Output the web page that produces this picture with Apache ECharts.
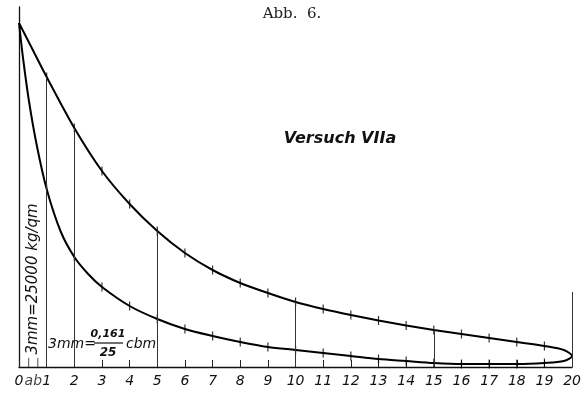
<!DOCTYPE html>
<html><head><meta charset="utf-8">
<script src="https://cdn.jsdelivr.net/npm/echarts@6/dist/echarts.min.js"></script>
<style>html,body{margin:0;padding:0;background:#fff}#c{width:584px;height:394px}</style>
</head><body><div id="c"></div>
<script>
// Data (x in volume divisions, y in pressure units above baseline)
var upperX = [0, 0.5, 1, 2, 3, 4, 5, 6, 7, 8, 9, 10, 11, 12, 13, 14, 15, 16, 17, 18, 19, 19.7, 20];
var upperY = [344, 317, 290, 239, 196, 163, 136, 114, 97, 84, 74, 65, 58, 52, 46.5, 41.5, 37, 33, 29, 25, 21, 17, 11];
var lowerX = [20, 19.7, 19, 18, 17, 16, 15, 14, 13, 12, 11, 10, 9, 8, 7, 6, 5, 4, 3, 2.5, 2, 1.5, 1, 0.64, 0.36, 0.15, 0];
var lowerY = [11, 6, 4, 3, 3, 3, 4, 6, 8, 11, 14, 17, 20, 25, 31, 38, 48, 61, 80, 93, 110, 136, 178, 222, 266, 308, 344];
var tickXs = [1, 2, 3, 4, 5, 6, 7, 8, 9, 10, 11, 12, 13, 14, 15, 16, 17, 18, 19];
var verticalXs = [1, 2, 5, 10, 15];
var rightLineTop = 75;
var extraTicks = [{x: 0.35, label: 'a'}, {x: 0.68, label: 'b'}];
var xLabels = ['0','1','2','3','4','5','6','7','8','9','10','11','12','13','14','15','16','17','18','19','20'];

function yAt(xs, ys, x) {
  for (var i = 0; i < xs.length; i++) if (xs[i] === x) return ys[i];
  return null;
}
var loop = [];
upperX.forEach(function (x, i) { loop.push([x, upperY[i]]); });
lowerX.forEach(function (x, i) { if (i > 0) loop.push([x, lowerY[i]]); });

var curveTicks = [];
tickXs.forEach(function (x) {
  curveTicks.push([x, yAt(upperX, upperY, x)]);
  curveTicks.push([x, yAt(lowerX, lowerY, x)]);
});
var vLines = verticalXs.map(function (x) {
  return [{coord: [x, 0]}, {coord: [x, yAt(upperX, upperY, x)]}];
});
vLines.push([{coord: [20, 0]}, {coord: [20, rightLineTop]}]);

var FONT = 'DejaVu Sans';
var chart = echarts.init(document.getElementById('c'), null, {renderer: 'canvas'});
chart.setOption({
  backgroundColor: '#fff',
  animation: false,
  grid: {left: 19, right: 6, top: 7, bottom: 27},
  xAxis: {
    type: 'value', min: 0, max: 20, interval: 1,
    axisLine: {show: true, lineStyle: {color: '#111', width: 1.3}},
    axisTick: {show: true, inside: true, length: 7, lineStyle: {color: '#222', width: 1}},
    axisLabel: {
      color: '#111', fontFamily: FONT, fontStyle: 'italic', fontSize: 14, margin: 7,
      formatter: function (v) { return xLabels[Math.round(v)]; }
    },
    splitLine: {show: false}
  },
  yAxis: {
    type: 'value', min: 0, max: 360,
    axisLine: {show: true, lineStyle: {color: '#111', width: 1.3}},
    axisTick: {show: false}, axisLabel: {show: false}, splitLine: {show: false}
  },
  series: [
    {
      type: 'line', data: loop, smooth: 0.3, showSymbol: false,
      lineStyle: {color: '#000', width: 2},
      markLine: {
        silent: true, symbol: ['none', 'none'], label: {show: false},
        lineStyle: {color: '#333', width: 1, type: 'solid'},
        data: vLines
      }
    },
    {
      type: 'scatter', data: curveTicks, symbol: 'rect', symbolSize: [1.2, 9],
      itemStyle: {color: '#000'}
    },
    {
      type: 'scatter', data: extraTicks.map(function (t) { return {value: [t.x, 0], name: t.label}; }),
      symbol: 'rect', symbolSize: [1, 9], symbolOffset: [0, -4.5],
      itemStyle: {color: '#222'},
      label: {show: true, position: 'bottom', distance: 7, formatter: '{b}',
        color: '#111', fontFamily: FONT, fontStyle: 'italic', fontSize: 14}
    }
  ],
  graphic: [
    {type: 'text', left: 'center', top: 7, style: {text: 'Abb.  6.', font: '15px "DejaVu Serif"', fill: '#222'}},
    {type: 'text', x: 340, y: 139, style: {text: 'Versuch VIIa', font: 'italic bold 16px "DejaVu Sans"', fill: '#111', textAlign: 'center', textVerticalAlign: 'middle'}},
    {type: 'text', x: 33, y: 279, rotation: Math.PI / 2, style: {text: '3mm=25000 kg/qm', font: 'italic 15px "DejaVu Sans"', fill: '#111', textAlign: 'center', textVerticalAlign: 'middle'}},
    {type: 'text', x: 48, y: 344, style: {text: '3mm=', font: 'italic 14px "DejaVu Sans"', fill: '#111', textAlign: 'left', textVerticalAlign: 'middle'}},
    {type: 'text', x: 108, y: 334, style: {text: '0,161', font: 'italic bold 11px "DejaVu Sans"', fill: '#111', textAlign: 'center', textVerticalAlign: 'middle'}},
    {type: 'line', shape: {x1: 94, y1: 343, x2: 123, y2: 343}, style: {stroke: '#111', lineWidth: 1.2}},
    {type: 'text', x: 108, y: 353, style: {text: '25', font: 'italic bold 12px "DejaVu Sans"', fill: '#111', textAlign: 'center', textVerticalAlign: 'middle'}},
    {type: 'text', x: 126, y: 344, style: {text: 'cbm', font: 'italic 14px "DejaVu Sans"', fill: '#111', textAlign: 'left', textVerticalAlign: 'middle'}}
  ]
});
</script></body></html>
